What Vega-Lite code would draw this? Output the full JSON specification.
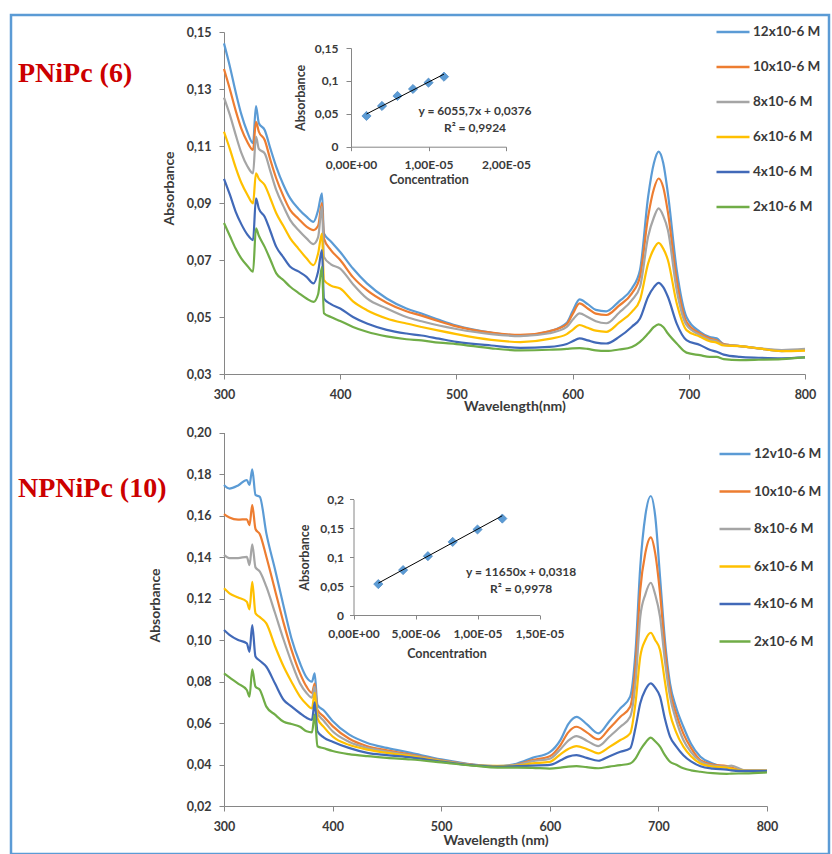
{
  "$schema": "https://vega.github.io/schema/vega-lite/v6.json",
  "width": 818,
  "height": 839,
  "autosize": {"type": "none"},
  "padding": {"left": 11, "top": 15, "right": 3, "bottom": 0},
  "background": "white",
  "config": {
    "locale": {"number": {"decimal": ",", "thousands": ".", "grouping": [3], "currency": ["", ""]}},
    "view": {"stroke": "#5B9BD5", "strokeWidth": 2.5},
    "font": "Lato",
    "axis": {"grid": false, "labelFlush": false, "labelOverlap": false, "domainColor": "#868686", "tickColor": "#868686", "domainWidth": 1, "tickWidth": 1, "labelFont": "Lato", "labelFontWeight": "bold", "labelColor": "#3a3a3a", "titleFont": "Lato", "titleFontWeight": "bold", "titleColor": "#3a3a3a"}
  },
  "datasets": {
    "p1": [
      {"w":300,"12x10-6 M":0.1460,"10x10-6 M":0.1370,"8x10-6 M":0.1270,"6x10-6 M":0.1150,"4x10-6 M":0.0985,"2x10-6 M":0.0830},
      {"w":305,"12x10-6 M":0.1380,"10x10-6 M":0.1300,"8x10-6 M":0.1210,"6x10-6 M":0.1090,"4x10-6 M":0.0930,"2x10-6 M":0.0785},
      {"w":310,"12x10-6 M":0.1290,"10x10-6 M":0.1225,"8x10-6 M":0.1140,"6x10-6 M":0.1025,"4x10-6 M":0.0870,"2x10-6 M":0.0740},
      {"w":315,"12x10-6 M":0.1210,"10x10-6 M":0.1160,"8x10-6 M":0.1075,"6x10-6 M":0.0970,"4x10-6 M":0.0825,"2x10-6 M":0.0705},
      {"w":320,"12x10-6 M":0.1150,"10x10-6 M":0.1115,"8x10-6 M":0.1030,"6x10-6 M":0.0930,"4x10-6 M":0.0790,"2x10-6 M":0.0680},
      {"w":325,"12x10-6 M":0.1110,"10x10-6 M":0.1086,"8x10-6 M":0.1004,"6x10-6 M":0.0899,"4x10-6 M":0.0770,"2x10-6 M":0.0659},
      {"w":327.5,"12x10-6 M":0.1240,"10x10-6 M":0.1185,"8x10-6 M":0.1133,"6x10-6 M":0.1004,"4x10-6 M":0.0916,"2x10-6 M":0.0811},
      {"w":330,"12x10-6 M":0.1180,"10x10-6 M":0.1150,"8x10-6 M":0.1090,"6x10-6 M":0.0985,"4x10-6 M":0.0880,"2x10-6 M":0.0785},
      {"w":335,"12x10-6 M":0.1156,"10x10-6 M":0.1121,"8x10-6 M":0.1074,"6x10-6 M":0.0963,"4x10-6 M":0.0852,"2x10-6 M":0.0746},
      {"w":340,"12x10-6 M":0.1090,"10x10-6 M":0.1050,"8x10-6 M":0.1010,"6x10-6 M":0.0915,"4x10-6 M":0.0800,"2x10-6 M":0.0700},
      {"w":345,"12x10-6 M":0.1027,"10x10-6 M":0.0986,"8x10-6 M":0.0945,"6x10-6 M":0.0864,"4x10-6 M":0.0746,"2x10-6 M":0.0653},
      {"w":351,"12x10-6 M":0.0965,"10x10-6 M":0.0925,"8x10-6 M":0.0890,"6x10-6 M":0.0820,"4x10-6 M":0.0710,"2x10-6 M":0.0630},
      {"w":357,"12x10-6 M":0.0916,"10x10-6 M":0.0875,"8x10-6 M":0.0840,"6x10-6 M":0.0776,"4x10-6 M":0.0676,"2x10-6 M":0.0606},
      {"w":364,"12x10-6 M":0.0880,"10x10-6 M":0.0845,"8x10-6 M":0.0805,"6x10-6 M":0.0740,"4x10-6 M":0.0660,"2x10-6 M":0.0585},
      {"w":371,"12x10-6 M":0.0852,"10x10-6 M":0.0817,"8x10-6 M":0.0776,"6x10-6 M":0.0706,"4x10-6 M":0.0641,"2x10-6 M":0.0565},
      {"w":377,"12x10-6 M":0.0834,"10x10-6 M":0.0805,"8x10-6 M":0.0756,"6x10-6 M":0.0682,"4x10-6 M":0.0618,"2x10-6 M":0.0553},
      {"w":381,"12x10-6 M":0.0875,"10x10-6 M":0.0820,"8x10-6 M":0.0780,"6x10-6 M":0.0723,"4x10-6 M":0.0660,"2x10-6 M":0.0580},
      {"w":384.3,"12x10-6 M":0.0934,"10x10-6 M":0.0900,"8x10-6 M":0.0887,"6x10-6 M":0.0793,"4x10-6 M":0.0735,"2x10-6 M":0.0676},
      {"w":386,"12x10-6 M":0.0793,"10x10-6 M":0.0775,"8x10-6 M":0.0711,"6x10-6 M":0.0630,"4x10-6 M":0.0565,"2x10-6 M":0.0513},
      {"w":392,"12x10-6 M":0.0765,"10x10-6 M":0.0735,"8x10-6 M":0.0685,"6x10-6 M":0.0610,"4x10-6 M":0.0545,"2x10-6 M":0.0500},
      {"w":400,"12x10-6 M":0.0728,"10x10-6 M":0.0700,"8x10-6 M":0.0670,"6x10-6 M":0.0600,"4x10-6 M":0.0530,"2x10-6 M":0.0486},
      {"w":411,"12x10-6 M":0.0670,"10x10-6 M":0.0640,"8x10-6 M":0.0615,"6x10-6 M":0.0555,"4x10-6 M":0.0500,"2x10-6 M":0.0465},
      {"w":423,"12x10-6 M":0.0618,"10x10-6 M":0.0594,"8x10-6 M":0.0565,"6x10-6 M":0.0524,"4x10-6 M":0.0477,"2x10-6 M":0.0448},
      {"w":440,"12x10-6 M":0.0565,"10x10-6 M":0.0550,"8x10-6 M":0.0530,"6x10-6 M":0.0495,"4x10-6 M":0.0455,"2x10-6 M":0.0432},
      {"w":457,"12x10-6 M":0.0530,"10x10-6 M":0.0520,"8x10-6 M":0.0500,"6x10-6 M":0.0477,"4x10-6 M":0.0442,"2x10-6 M":0.0422},
      {"w":470,"12x10-6 M":0.0512,"10x10-6 M":0.0505,"8x10-6 M":0.0485,"6x10-6 M":0.0465,"4x10-6 M":0.0435,"2x10-6 M":0.0418},
      {"w":485,"12x10-6 M":0.0490,"10x10-6 M":0.0485,"8x10-6 M":0.0470,"6x10-6 M":0.0452,"4x10-6 M":0.0424,"2x10-6 M":0.0410},
      {"w":500,"12x10-6 M":0.0470,"10x10-6 M":0.0467,"8x10-6 M":0.0458,"6x10-6 M":0.0440,"4x10-6 M":0.0413,"2x10-6 M":0.0405},
      {"w":530,"12x10-6 M":0.0445,"10x10-6 M":0.0445,"8x10-6 M":0.0440,"6x10-6 M":0.0420,"4x10-6 M":0.0400,"2x10-6 M":0.0390},
      {"w":555,"12x10-6 M":0.0435,"10x10-6 M":0.0437,"8x10-6 M":0.0433,"6x10-6 M":0.0412,"4x10-6 M":0.0392,"2x10-6 M":0.0383},
      {"w":580,"12x10-6 M":0.0450,"10x10-6 M":0.0450,"8x10-6 M":0.0443,"6x10-6 M":0.0423,"4x10-6 M":0.0395,"2x10-6 M":0.0385},
      {"w":595,"12x10-6 M":0.0480,"10x10-6 M":0.0475,"8x10-6 M":0.0465,"6x10-6 M":0.0440,"4x10-6 M":0.0405,"2x10-6 M":0.0388},
      {"w":600,"12x10-6 M":0.0520,"10x10-6 M":0.0510,"8x10-6 M":0.0490,"6x10-6 M":0.0455,"4x10-6 M":0.0415,"2x10-6 M":0.0390},
      {"w":606,"12x10-6 M":0.0562,"10x10-6 M":0.0548,"8x10-6 M":0.0513,"6x10-6 M":0.0472,"4x10-6 M":0.0425,"2x10-6 M":0.0391},
      {"w":613,"12x10-6 M":0.0545,"10x10-6 M":0.0530,"8x10-6 M":0.0500,"6x10-6 M":0.0462,"4x10-6 M":0.0418,"2x10-6 M":0.0388},
      {"w":620,"12x10-6 M":0.0525,"10x10-6 M":0.0512,"8x10-6 M":0.0485,"6x10-6 M":0.0452,"4x10-6 M":0.0410,"2x10-6 M":0.0383},
      {"w":629,"12x10-6 M":0.0520,"10x10-6 M":0.0507,"8x10-6 M":0.0478,"6x10-6 M":0.0448,"4x10-6 M":0.0407,"2x10-6 M":0.0381},
      {"w":640,"12x10-6 M":0.0555,"10x10-6 M":0.0540,"8x10-6 M":0.0515,"6x10-6 M":0.0480,"4x10-6 M":0.0430,"2x10-6 M":0.0386},
      {"w":651,"12x10-6 M":0.0600,"10x10-6 M":0.0583,"8x10-6 M":0.0559,"6x10-6 M":0.0518,"4x10-6 M":0.0466,"2x10-6 M":0.0395},
      {"w":658,"12x10-6 M":0.0665,"10x10-6 M":0.0641,"8x10-6 M":0.0606,"6x10-6 M":0.0560,"4x10-6 M":0.0495,"2x10-6 M":0.0413},
      {"w":665,"12x10-6 M":0.0922,"10x10-6 M":0.0852,"8x10-6 M":0.0782,"6x10-6 M":0.0688,"4x10-6 M":0.0571,"2x10-6 M":0.0442},
      {"w":670,"12x10-6 M":0.1040,"10x10-6 M":0.0950,"8x10-6 M":0.0850,"6x10-6 M":0.0740,"4x10-6 M":0.0605,"2x10-6 M":0.0465},
      {"w":674,"12x10-6 M":0.1080,"10x10-6 M":0.0986,"8x10-6 M":0.0881,"6x10-6 M":0.0760,"4x10-6 M":0.0620,"2x10-6 M":0.0474},
      {"w":678,"12x10-6 M":0.1040,"10x10-6 M":0.0955,"8x10-6 M":0.0855,"6x10-6 M":0.0740,"4x10-6 M":0.0605,"2x10-6 M":0.0465},
      {"w":682,"12x10-6 M":0.0934,"10x10-6 M":0.0868,"8x10-6 M":0.0805,"6x10-6 M":0.0700,"4x10-6 M":0.0571,"2x10-6 M":0.0442},
      {"w":689.6,"12x10-6 M":0.0665,"10x10-6 M":0.0630,"8x10-6 M":0.0594,"6x10-6 M":0.0548,"4x10-6 M":0.0477,"2x10-6 M":0.0407},
      {"w":698,"12x10-6 M":0.0500,"10x10-6 M":0.0483,"8x10-6 M":0.0472,"6x10-6 M":0.0454,"4x10-6 M":0.0419,"2x10-6 M":0.0375},
      {"w":709.6,"12x10-6 M":0.0448,"10x10-6 M":0.0442,"8x10-6 M":0.0437,"6x10-6 M":0.0431,"4x10-6 M":0.0402,"2x10-6 M":0.0366},
      {"w":718,"12x10-6 M":0.0430,"10x10-6 M":0.0425,"8x10-6 M":0.0420,"6x10-6 M":0.0415,"4x10-6 M":0.0385,"2x10-6 M":0.0360},
      {"w":724,"12x10-6 M":0.0425,"10x10-6 M":0.0418,"8x10-6 M":0.0415,"6x10-6 M":0.0410,"4x10-6 M":0.0378,"2x10-6 M":0.0360},
      {"w":730,"12x10-6 M":0.0405,"10x10-6 M":0.0405,"8x10-6 M":0.0402,"6x10-6 M":0.0400,"4x10-6 M":0.0368,"2x10-6 M":0.0352},
      {"w":744,"12x10-6 M":0.0398,"10x10-6 M":0.0398,"8x10-6 M":0.0398,"6x10-6 M":0.0398,"4x10-6 M":0.0360,"2x10-6 M":0.0349},
      {"w":760,"12x10-6 M":0.0390,"10x10-6 M":0.0390,"8x10-6 M":0.0390,"6x10-6 M":0.0390,"4x10-6 M":0.0357,"2x10-6 M":0.0350},
      {"w":780,"12x10-6 M":0.0380,"10x10-6 M":0.0382,"8x10-6 M":0.0384,"6x10-6 M":0.0380,"4x10-6 M":0.0355,"2x10-6 M":0.0352},
      {"w":800,"12x10-6 M":0.0385,"10x10-6 M":0.0384,"8x10-6 M":0.0388,"6x10-6 M":0.0382,"4x10-6 M":0.0358,"2x10-6 M":0.0358}
    ],
    "p2": [
      {"w":300,"12v10-6 M":0.1747,"10x10-6 M":0.1607,"8x10-6 M":0.1410,"6x10-6 M":0.1249,"4x10-6 M":0.1048,"2x10-6 M":0.0839},
      {"w":305,"12v10-6 M":0.1730,"10x10-6 M":0.1590,"8x10-6 M":0.1395,"6x10-6 M":0.1225,"4x10-6 M":0.1025,"2x10-6 M":0.0820},
      {"w":313,"12v10-6 M":0.1745,"10x10-6 M":0.1580,"8x10-6 M":0.1395,"6x10-6 M":0.1205,"4x10-6 M":0.1000,"2x10-6 M":0.0790},
      {"w":321,"12v10-6 M":0.1771,"10x10-6 M":0.1582,"8x10-6 M":0.1401,"6x10-6 M":0.1184,"4x10-6 M":0.0984,"2x10-6 M":0.0759},
      {"w":323.5,"12v10-6 M":0.1747,"10x10-6 M":0.1554,"8x10-6 M":0.1361,"6x10-6 M":0.1148,"4x10-6 M":0.0943,"2x10-6 M":0.0727},
      {"w":326,"12v10-6 M":0.1823,"10x10-6 M":0.1650,"8x10-6 M":0.1461,"6x10-6 M":0.1280,"4x10-6 M":0.1072,"2x10-6 M":0.0859},
      {"w":329,"12v10-6 M":0.1699,"10x10-6 M":0.1535,"8x10-6 M":0.1350,"6x10-6 M":0.1129,"4x10-6 M":0.0920,"2x10-6 M":0.0775},
      {"w":333,"12v10-6 M":0.1690,"10x10-6 M":0.1510,"8x10-6 M":0.1330,"6x10-6 M":0.1110,"4x10-6 M":0.0900,"2x10-6 M":0.0760},
      {"w":339,"12v10-6 M":0.1514,"10x10-6 M":0.1401,"8x10-6 M":0.1257,"6x10-6 M":0.1080,"4x10-6 M":0.0871,"2x10-6 M":0.0679},
      {"w":347,"12v10-6 M":0.1340,"10x10-6 M":0.1240,"8x10-6 M":0.1130,"6x10-6 M":0.0970,"4x10-6 M":0.0790,"2x10-6 M":0.0640},
      {"w":355,"12v10-6 M":0.1160,"10x10-6 M":0.1080,"8x10-6 M":0.1000,"6x10-6 M":0.0871,"4x10-6 M":0.0711,"2x10-6 M":0.0606},
      {"w":362,"12v10-6 M":0.1010,"10x10-6 M":0.0955,"8x10-6 M":0.0895,"6x10-6 M":0.0800,"4x10-6 M":0.0680,"2x10-6 M":0.0595},
      {"w":370,"12v10-6 M":0.0888,"10x10-6 M":0.0839,"8x10-6 M":0.0791,"6x10-6 M":0.0727,"4x10-6 M":0.0647,"2x10-6 M":0.0582},
      {"w":376,"12v10-6 M":0.0820,"10x10-6 M":0.0775,"8x10-6 M":0.0745,"6x10-6 M":0.0690,"4x10-6 M":0.0625,"2x10-6 M":0.0560},
      {"w":381,"12v10-6 M":0.0799,"10x10-6 M":0.0745,"8x10-6 M":0.0722,"6x10-6 M":0.0670,"4x10-6 M":0.0615,"2x10-6 M":0.0555},
      {"w":383.5,"12v10-6 M":0.0839,"10x10-6 M":0.0790,"8x10-6 M":0.0775,"6x10-6 M":0.0745,"4x10-6 M":0.0700,"2x10-6 M":0.0640},
      {"w":386,"12v10-6 M":0.0688,"10x10-6 M":0.0664,"8x10-6 M":0.0648,"6x10-6 M":0.0624,"4x10-6 M":0.0560,"2x10-6 M":0.0488},
      {"w":392,"12v10-6 M":0.0660,"10x10-6 M":0.0630,"8x10-6 M":0.0610,"6x10-6 M":0.0580,"4x10-6 M":0.0530,"2x10-6 M":0.0478},
      {"w":400,"12v10-6 M":0.0610,"10x10-6 M":0.0585,"8x10-6 M":0.0560,"6x10-6 M":0.0535,"4x10-6 M":0.0510,"2x10-6 M":0.0465},
      {"w":415,"12v10-6 M":0.0545,"10x10-6 M":0.0525,"8x10-6 M":0.0510,"6x10-6 M":0.0495,"4x10-6 M":0.0480,"2x10-6 M":0.0450},
      {"w":432,"12v10-6 M":0.0504,"10x10-6 M":0.0488,"8x10-6 M":0.0480,"6x10-6 M":0.0472,"4x10-6 M":0.0456,"2x10-6 M":0.0440},
      {"w":450,"12v10-6 M":0.0480,"10x10-6 M":0.0468,"8x10-6 M":0.0462,"6x10-6 M":0.0456,"4x10-6 M":0.0445,"2x10-6 M":0.0432},
      {"w":472,"12v10-6 M":0.0456,"10x10-6 M":0.0448,"8x10-6 M":0.0444,"6x10-6 M":0.0440,"4x10-6 M":0.0434,"2x10-6 M":0.0424},
      {"w":500,"12v10-6 M":0.0425,"10x10-6 M":0.0420,"8x10-6 M":0.0418,"6x10-6 M":0.0416,"4x10-6 M":0.0414,"2x10-6 M":0.0410},
      {"w":530,"12v10-6 M":0.0400,"10x10-6 M":0.0398,"8x10-6 M":0.0397,"6x10-6 M":0.0396,"4x10-6 M":0.0396,"2x10-6 M":0.0394},
      {"w":552,"12v10-6 M":0.0392,"10x10-6 M":0.0390,"8x10-6 M":0.0392,"6x10-6 M":0.0393,"4x10-6 M":0.0390,"2x10-6 M":0.0385},
      {"w":570,"12v10-6 M":0.0405,"10x10-6 M":0.0400,"8x10-6 M":0.0398,"6x10-6 M":0.0395,"4x10-6 M":0.0392,"2x10-6 M":0.0385},
      {"w":584,"12v10-6 M":0.0432,"10x10-6 M":0.0421,"8x10-6 M":0.0416,"6x10-6 M":0.0405,"4x10-6 M":0.0395,"2x10-6 M":0.0384},
      {"w":600,"12v10-6 M":0.0460,"10x10-6 M":0.0440,"8x10-6 M":0.0428,"6x10-6 M":0.0413,"4x10-6 M":0.0398,"2x10-6 M":0.0380},
      {"w":610,"12v10-6 M":0.0520,"10x10-6 M":0.0495,"8x10-6 M":0.0475,"6x10-6 M":0.0450,"4x10-6 M":0.0420,"2x10-6 M":0.0385},
      {"w":617,"12v10-6 M":0.0595,"10x10-6 M":0.0555,"8x10-6 M":0.0515,"6x10-6 M":0.0475,"4x10-6 M":0.0438,"2x10-6 M":0.0390},
      {"w":624.6,"12v10-6 M":0.0630,"10x10-6 M":0.0582,"8x10-6 M":0.0537,"6x10-6 M":0.0489,"4x10-6 M":0.0445,"2x10-6 M":0.0392},
      {"w":634,"12v10-6 M":0.0595,"10x10-6 M":0.0555,"8x10-6 M":0.0515,"6x10-6 M":0.0475,"4x10-6 M":0.0432,"2x10-6 M":0.0387},
      {"w":644.7,"12v10-6 M":0.0550,"10x10-6 M":0.0521,"8x10-6 M":0.0489,"6x10-6 M":0.0454,"4x10-6 M":0.0418,"2x10-6 M":0.0382},
      {"w":655,"12v10-6 M":0.0610,"10x10-6 M":0.0575,"8x10-6 M":0.0535,"6x10-6 M":0.0485,"4x10-6 M":0.0440,"2x10-6 M":0.0390},
      {"w":665,"12v10-6 M":0.0671,"10x10-6 M":0.0630,"8x10-6 M":0.0582,"6x10-6 M":0.0518,"4x10-6 M":0.0461,"2x10-6 M":0.0397},
      {"w":674,"12v10-6 M":0.0727,"10x10-6 M":0.0678,"8x10-6 M":0.0630,"6x10-6 M":0.0550,"4x10-6 M":0.0478,"2x10-6 M":0.0405},
      {"w":679,"12v10-6 M":0.0950,"10x10-6 M":0.0880,"8x10-6 M":0.0800,"6x10-6 M":0.0700,"4x10-6 M":0.0580,"2x10-6 M":0.0430},
      {"w":683.3,"12v10-6 M":0.1353,"10x10-6 M":0.1241,"8x10-6 M":0.1112,"6x10-6 M":0.0920,"4x10-6 M":0.0695,"2x10-6 M":0.0470},
      {"w":688,"12v10-6 M":0.1600,"10x10-6 M":0.1420,"8x10-6 M":0.1220,"6x10-6 M":0.1000,"4x10-6 M":0.0760,"2x10-6 M":0.0505},
      {"w":693,"12v10-6 M":0.1694,"10x10-6 M":0.1495,"8x10-6 M":0.1276,"6x10-6 M":0.1035,"4x10-6 M":0.0791,"2x10-6 M":0.0530},
      {"w":697,"12v10-6 M":0.1600,"10x10-6 M":0.1420,"8x10-6 M":0.1220,"6x10-6 M":0.1000,"4x10-6 M":0.0770,"2x10-6 M":0.0512},
      {"w":701.5,"12v10-6 M":0.1305,"10x10-6 M":0.1225,"8x10-6 M":0.1112,"6x10-6 M":0.0952,"4x10-6 M":0.0727,"2x10-6 M":0.0486},
      {"w":706,"12v10-6 M":0.1000,"10x10-6 M":0.0960,"8x10-6 M":0.0900,"6x10-6 M":0.0800,"4x10-6 M":0.0620,"2x10-6 M":0.0445},
      {"w":710.7,"12v10-6 M":0.0791,"10x10-6 M":0.0759,"8x10-6 M":0.0727,"6x10-6 M":0.0647,"4x10-6 M":0.0534,"2x10-6 M":0.0413},
      {"w":716,"12v10-6 M":0.0680,"10x10-6 M":0.0650,"8x10-6 M":0.0620,"6x10-6 M":0.0560,"4x10-6 M":0.0490,"2x10-6 M":0.0400},
      {"w":723,"12v10-6 M":0.0582,"10x10-6 M":0.0549,"8x10-6 M":0.0518,"6x10-6 M":0.0486,"4x10-6 M":0.0445,"2x10-6 M":0.0382},
      {"w":730,"12v10-6 M":0.0500,"10x10-6 M":0.0480,"8x10-6 M":0.0460,"6x10-6 M":0.0440,"4x10-6 M":0.0415,"2x10-6 M":0.0372},
      {"w":738.7,"12v10-6 M":0.0437,"10x10-6 M":0.0421,"8x10-6 M":0.0415,"6x10-6 M":0.0405,"4x10-6 M":0.0392,"2x10-6 M":0.0365},
      {"w":750,"12v10-6 M":0.0405,"10x10-6 M":0.0400,"8x10-6 M":0.0395,"6x10-6 M":0.0390,"4x10-6 M":0.0380,"2x10-6 M":0.0358},
      {"w":763,"12v10-6 M":0.0385,"10x10-6 M":0.0392,"8x10-6 M":0.0390,"6x10-6 M":0.0385,"4x10-6 M":0.0375,"2x10-6 M":0.0355},
      {"w":767,"12v10-6 M":0.0380,"10x10-6 M":0.0385,"8x10-6 M":0.0395,"6x10-6 M":0.0380,"4x10-6 M":0.0372,"2x10-6 M":0.0356},
      {"w":780,"12v10-6 M":0.0372,"10x10-6 M":0.0372,"8x10-6 M":0.0372,"6x10-6 M":0.0370,"4x10-6 M":0.0368,"2x10-6 M":0.0357},
      {"w":800,"12v10-6 M":0.0372,"10x10-6 M":0.0370,"8x10-6 M":0.0372,"6x10-6 M":0.0370,"4x10-6 M":0.0368,"2x10-6 M":0.0362}
    ],
    "c1": [
      {"C":0.000002,"A":0.0467},{"C":0.000004,"A":0.0619},{"C":0.000006,"A":0.0771},
      {"C":0.000008,"A":0.0877},{"C":0.00001,"A":0.0973},{"C":0.000012,"A":0.1064}
    ],
    "t1": [{"C":0.000002,"A":0.0497},{"C":0.000012,"A":0.1103}],
    "c2": [
      {"C":0.000002,"A":0.0534},{"C":0.000004,"A":0.0776},{"C":0.000006,"A":0.1017},
      {"C":0.000008,"A":0.1264},{"C":0.00001,"A":0.1478},{"C":0.000012,"A":0.1667}
    ],
    "t2": [{"C":0.000002,"A":0.0551},{"C":0.000012,"A":0.1716}]
  },
  "layer": [
    {
      "layer": [
        {
          "data": {"name": "p1"},
          "transform": [{"fold": ["12x10-6 M","10x10-6 M","8x10-6 M","6x10-6 M","4x10-6 M","2x10-6 M"], "as": ["series","A"]}],
          "mark": {"type": "line", "strokeWidth": 2.2, "interpolate": "monotone"},
          "encoding": {
            "x": {"field": "w", "type": "quantitative",
              "scale": {"domain": [300, 800], "range": [213, 794], "nice": false, "zero": false},
              "axis": {"orient": "bottom", "offset": -480, "values": [300,400,500,600,700,800], "title": "Wavelength(nm)", "labelFontSize": 12.5, "titleFontSize": 14, "tickSize": 5, "labelPadding": 9, "titlePadding": -1}},
            "y": {"field": "A", "type": "quantitative",
              "scale": {"domain": [0.03, 0.15], "range": [359, 17], "nice": false, "zero": false},
              "axis": {"orient": "left", "offset": -213, "values": [0.03,0.05,0.07,0.09,0.11,0.13,0.15], "format": ".2f", "title": "Absorbance", "labelFontSize": 12.5, "titleFontSize": 14, "tickSize": 5, "labelPadding": 8, "titlePadding": 10, "titleY": 173}},
            "color": {"field": "series", "type": "nominal",
              "scale": {"domain": ["12x10-6 M","10x10-6 M","8x10-6 M","6x10-6 M","4x10-6 M","2x10-6 M"], "range": ["#5B9BD5","#ED7D31","#A5A5A5","#FFC000","#4169B8","#70AD47"]},
              "legend": {"orient": "none", "legendX": 704, "legendY": -1, "title": null, "symbolType": "stroke", "symbolSize": 1089, "symbolStrokeWidth": 2.5, "labelFont": "Lato", "labelFontSize": 13.5, "labelFontWeight": "bold", "labelColor": "#3a3a3a", "labelOffset": 2, "rowPadding": 10, "padding": 0}}
          }
        },
        {
          "data": {"values": [{"label": "PNiPc (6)"}]},
          "mark": {"type": "text", "font": "Liberation Serif", "fontSize": 28, "fontWeight": "bold", "color": "#CC0000", "align": "left", "baseline": "alphabetic"},
          "encoding": {
            "x": {"datum": 122.7, "type": "quantitative"},
            "y": {"datum": 0.1324, "type": "quantitative"},
            "text": {"field": "label"}
          }
        }
      ]
    },
    {
      "layer": [
        {
          "data": {"name": "c1"},
          "mark": {"type": "point", "shape": "diamond", "filled": true, "size": 85, "color": "#5B9BD5", "opacity": 1, "stroke": "#4A86C0", "strokeWidth": 0.7},
          "encoding": {
            "x": {"field": "C", "type": "quantitative",
              "scale": {"domain": [0, 0.00002], "range": [340, 495], "nice": false, "zero": false},
              "axis": {"orient": "bottom", "offset": -707.3, "values": [0, 0.00001, 0.00002], "labelExpr": "replace(replace(replace(format(datum.value, '.2e'), '.', ','), 'e-', 'E-0'), 'e+', 'E+0')", "title": "Concentration", "labelFontSize": 12, "titleFontSize": 12.5, "tickSize": 4, "labelPadding": 9, "titlePadding": 3}},
            "y": {"field": "A", "type": "quantitative",
              "scale": {"domain": [0, 0.15], "range": [131.7, 33], "nice": false, "zero": false},
              "axis": {"orient": "left", "offset": -340, "values": [0, 0.05, 0.1, 0.15], "format": ".2~f", "title": "Absorbance", "labelFontSize": 12, "titleFontSize": 12.5, "tickSize": 5, "labelPadding": 8, "titlePadding": 7}}
          }
        },
        {
          "data": {"name": "t1"},
          "mark": {"type": "line", "color": "#000000", "strokeWidth": 1},
          "encoding": {
            "x": {"field": "C", "type": "quantitative"},
            "y": {"field": "A", "type": "quantitative"}
          }
        },
        {
          "data": {"values": [{"t": "y = 6055,7x + 0,0376"}]},
          "mark": {"type": "text", "font": "Lato", "fontSize": 12, "fontWeight": "bold", "color": "#3a3a3a", "align": "center", "baseline": "middle"},
          "encoding": {
            "x": {"datum": 0.000016, "type": "quantitative"},
            "y": {"datum": 0.0547, "type": "quantitative"},
            "text": {"field": "t"}
          }
        },
        {
          "data": {"values": [{"t": "R² = 0,9924"}]},
          "mark": {"type": "text", "font": "Lato", "fontSize": 12, "fontWeight": "bold", "color": "#3a3a3a", "align": "center", "baseline": "middle"},
          "encoding": {
            "x": {"datum": 0.000016, "type": "quantitative"},
            "y": {"datum": 0.0284, "type": "quantitative"},
            "text": {"field": "t"}
          }
        }
      ]
    },
    {
      "layer": [
        {
          "data": {"name": "p2"},
          "transform": [{"fold": ["12v10-6 M","10x10-6 M","8x10-6 M","6x10-6 M","4x10-6 M","2x10-6 M"], "as": ["series","A"]}],
          "mark": {"type": "line", "strokeWidth": 2.2, "interpolate": "monotone"},
          "encoding": {
            "x": {"field": "w", "type": "quantitative",
              "scale": {"domain": [300, 800], "range": [213, 756], "nice": false, "zero": false},
              "axis": {"orient": "bottom", "offset": -48, "values": [300,400,500,600,700,800], "title": "Wavelength (nm)", "labelFontSize": 12.5, "titleFontSize": 14, "tickSize": 5, "labelPadding": 9, "titlePadding": 1}},
            "y": {"field": "A", "type": "quantitative",
              "scale": {"domain": [0.02, 0.20], "range": [791, 417.5], "nice": false, "zero": false},
              "axis": {"orient": "left", "offset": -213, "values": [0.02,0.04,0.06,0.08,0.10,0.12,0.14,0.16,0.18,0.20], "format": ".2f", "title": "Absorbance", "labelFontSize": 12.5, "titleFontSize": 14, "tickSize": 5, "labelPadding": 8, "titlePadding": 24, "titleY": 590}},
            "color": {"field": "series", "type": "nominal",
              "scale": {"domain": ["12v10-6 M","10x10-6 M","8x10-6 M","6x10-6 M","4x10-6 M","2x10-6 M"], "range": ["#5B9BD5","#ED7D31","#A5A5A5","#FFC000","#4169B8","#70AD47"]},
              "legend": {"orient": "none", "legendX": 707, "legendY": 422, "title": null, "symbolType": "stroke", "symbolSize": 961, "symbolStrokeWidth": 2.5, "labelFont": "Lato", "labelFontSize": 13.5, "labelFontWeight": "bold", "labelColor": "#3a3a3a", "labelOffset": 2, "rowPadding": 13.5, "padding": 0}}
          }
        },
        {
          "data": {"values": [{"label": "NPNiPc (10)"}]},
          "mark": {"type": "text", "font": "Liberation Serif", "fontSize": 28, "fontWeight": "bold", "color": "#CC0000", "align": "left", "baseline": "alphabetic"},
          "encoding": {
            "x": {"datum": 110.3, "type": "quantitative"},
            "y": {"datum": 0.1688, "type": "quantitative"},
            "text": {"field": "label"}
          }
        }
      ]
    },
    {
      "layer": [
        {
          "data": {"name": "c2"},
          "mark": {"type": "point", "shape": "diamond", "filled": true, "size": 85, "color": "#5B9BD5", "opacity": 1, "stroke": "#4A86C0", "strokeWidth": 0.7},
          "encoding": {
            "x": {"field": "C", "type": "quantitative",
              "scale": {"domain": [0, 0.000015], "range": [342.5, 528.5], "nice": false, "zero": false},
              "axis": {"orient": "bottom", "offset": -239, "values": [0, 0.000005, 0.00001, 0.000015], "labelExpr": "replace(replace(replace(format(datum.value, '.2e'), '.', ','), 'e-', 'E-0'), 'e+', 'E+0')", "title": "Concentration", "labelFontSize": 12, "titleFontSize": 12.5, "tickSize": 4, "labelPadding": 9, "titlePadding": 8}},
            "y": {"field": "A", "type": "quantitative",
              "scale": {"domain": [0, 0.2], "range": [600, 484.3], "nice": false, "zero": false},
              "axis": {"orient": "left", "offset": -342.5, "values": [0, 0.05, 0.1, 0.15, 0.2], "format": ".2~f", "title": "Absorbance", "labelFontSize": 12, "titleFontSize": 12.5, "tickSize": 4, "labelPadding": 6, "titlePadding": 8}}
          }
        },
        {
          "data": {"name": "t2"},
          "mark": {"type": "line", "color": "#000000", "strokeWidth": 1},
          "encoding": {
            "x": {"field": "C", "type": "quantitative"},
            "y": {"field": "A", "type": "quantitative"}
          }
        },
        {
          "data": {"values": [{"t": "y = 11650x + 0,0318"}]},
          "mark": {"type": "text", "font": "Lato", "fontSize": 12, "fontWeight": "bold", "color": "#3a3a3a", "align": "center", "baseline": "middle"},
          "encoding": {
            "x": {"datum": 0.00001352, "type": "quantitative"},
            "y": {"datum": 0.0741, "type": "quantitative"},
            "text": {"field": "t"}
          }
        },
        {
          "data": {"values": [{"t": "R² = 0,9978"}]},
          "mark": {"type": "text", "font": "Lato", "fontSize": 12, "fontWeight": "bold", "color": "#3a3a3a", "align": "center", "baseline": "middle"},
          "encoding": {
            "x": {"datum": 0.00001352, "type": "quantitative"},
            "y": {"datum": 0.0448, "type": "quantitative"},
            "text": {"field": "t"}
          }
        }
      ]
    }
  ],
  "resolve": {
    "scale": {"x": "independent", "y": "independent", "color": "independent"},
    "axis": {"x": "independent", "y": "independent"},
    "legend": {"color": "independent"}
  }
}
